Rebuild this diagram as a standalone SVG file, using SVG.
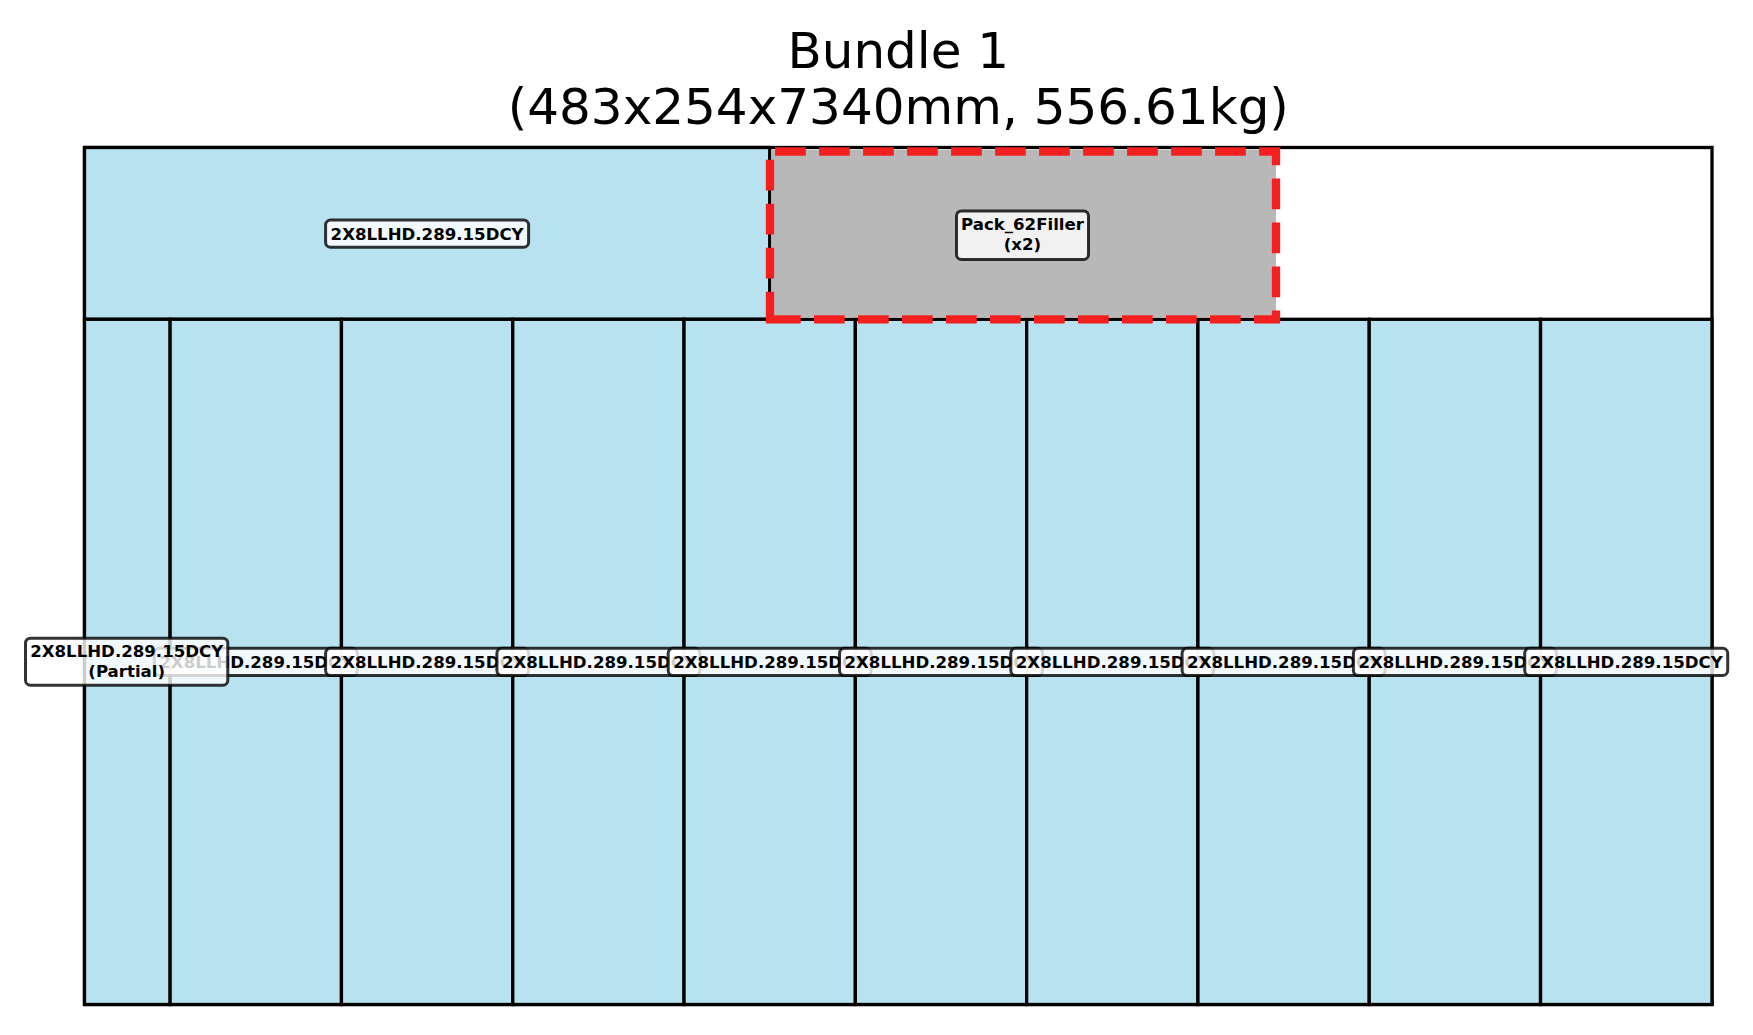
<svg xmlns="http://www.w3.org/2000/svg" width="1753" height="1035" viewBox="0 0 1753 1035">
<style>
.title{font-family:"DejaVu Sans","Liberation Sans",sans-serif;font-size:50px;fill:#000;text-anchor:middle}
.item{fill:#B8E2EF;stroke:#000;stroke-width:3.3}
.frame{fill:none;stroke:#000;stroke-width:3.3}
.filler{fill:#B8B8B8;stroke:none}
.hl{fill:none;stroke:#F42020;stroke-width:8.3;stroke-dasharray:30.7 13.3;stroke-linecap:butt;stroke-linejoin:miter}
.box{fill:#fff;fill-opacity:0.8;stroke:#000;stroke-opacity:0.8;stroke-width:3}
.lbl{font-family:"DejaVu Sans","Liberation Sans",sans-serif;font-size:16.6px;font-weight:bold;fill:#000;text-anchor:middle}
</style>
<rect width="1753" height="1035" fill="#fff"/>
<g id="title">
<text class="title" x="898.3" y="68">Bundle 1</text>
<text class="title" x="898.3" y="124">(483x254x7340mm, 556.61kg)</text>
</g>
<g id="bundle-frame"><rect class="frame" x="84.5" y="147.5" width="1627.5" height="857"/></g>
<g id="item-top"><rect class="item" x="84.5" y="147.5" width="685.2" height="171.8"/></g>
<g id="item-partial"><rect class="item" x="84.5" y="319.3" width="85.65" height="685.2"/></g>
<g id="item-col1"><rect class="item" x="170.15" y="319.3" width="171.3" height="685.2"/></g>
<g id="item-col2"><rect class="item" x="341.45" y="319.3" width="171.3" height="685.2"/></g>
<g id="item-col3"><rect class="item" x="512.75" y="319.3" width="171.3" height="685.2"/></g>
<g id="item-col4"><rect class="item" x="684.05" y="319.3" width="171.3" height="685.2"/></g>
<g id="item-col5"><rect class="item" x="855.35" y="319.3" width="171.3" height="685.2"/></g>
<g id="item-col6"><rect class="item" x="1026.65" y="319.3" width="171.3" height="685.2"/></g>
<g id="item-col7"><rect class="item" x="1197.95" y="319.3" width="171.3" height="685.2"/></g>
<g id="item-col8"><rect class="item" x="1369.25" y="319.3" width="171.3" height="685.2"/></g>
<g id="item-col9"><rect class="item" x="1540.55" y="319.3" width="171.45" height="685.2"/></g>
<g id="filler">
<rect class="filler" x="771.4" y="150" width="504.6" height="167.6"/>
<path class="hl" d="M770,319.3 L1276,319.3 L1276,151.5 L770,151.5 Z"/>
</g>
<g id="labels">
<g id="label-top"><rect class="box" x="325.6" y="220" width="203" height="27.2" rx="5"/><text class="lbl" x="427.1" y="239.6">2X8LLHD.289.15DCY</text></g>
<g id="label-filler"><rect class="box" x="956.5" y="210.9" width="132" height="48.6" rx="5"/><text class="lbl" x="1022.5" y="230.4">Pack_62Filler</text><text class="lbl" x="1022.5" y="250.4">(x2)</text></g>
<g id="label-col1"><rect class="box" x="154.3" y="648.3" width="203" height="27.2" rx="5"/><text class="lbl" x="255.8" y="668">2X8LLHD.289.15DCY</text></g>
<g id="label-col2"><rect class="box" x="325.6" y="648.3" width="203" height="27.2" rx="5"/><text class="lbl" x="427.1" y="668">2X8LLHD.289.15DCY</text></g>
<g id="label-col3"><rect class="box" x="496.9" y="648.3" width="203" height="27.2" rx="5"/><text class="lbl" x="598.4" y="668">2X8LLHD.289.15DCY</text></g>
<g id="label-col4"><rect class="box" x="668.2" y="648.3" width="203" height="27.2" rx="5"/><text class="lbl" x="769.7" y="668">2X8LLHD.289.15DCY</text></g>
<g id="label-col5"><rect class="box" x="839.5" y="648.3" width="203" height="27.2" rx="5"/><text class="lbl" x="941" y="668">2X8LLHD.289.15DCY</text></g>
<g id="label-col6"><rect class="box" x="1010.8" y="648.3" width="203" height="27.2" rx="5"/><text class="lbl" x="1112.3" y="668">2X8LLHD.289.15DCY</text></g>
<g id="label-col7"><rect class="box" x="1182.1" y="648.3" width="203" height="27.2" rx="5"/><text class="lbl" x="1283.6" y="668">2X8LLHD.289.15DCY</text></g>
<g id="label-col8"><rect class="box" x="1353.4" y="648.3" width="203" height="27.2" rx="5"/><text class="lbl" x="1454.9" y="668">2X8LLHD.289.15DCY</text></g>
<g id="label-col9"><rect class="box" x="1524.7" y="648.3" width="203" height="27.2" rx="5"/><text class="lbl" x="1626.2" y="668">2X8LLHD.289.15DCY</text></g>
<g id="label-partial"><rect class="box" x="25.5" y="638.2" width="202.3" height="47" rx="5"/><text class="lbl" x="126.7" y="657.3">2X8LLHD.289.15DCY</text><text class="lbl" x="126.7" y="677.3">(Partial)</text></g>
</g>
</svg>
